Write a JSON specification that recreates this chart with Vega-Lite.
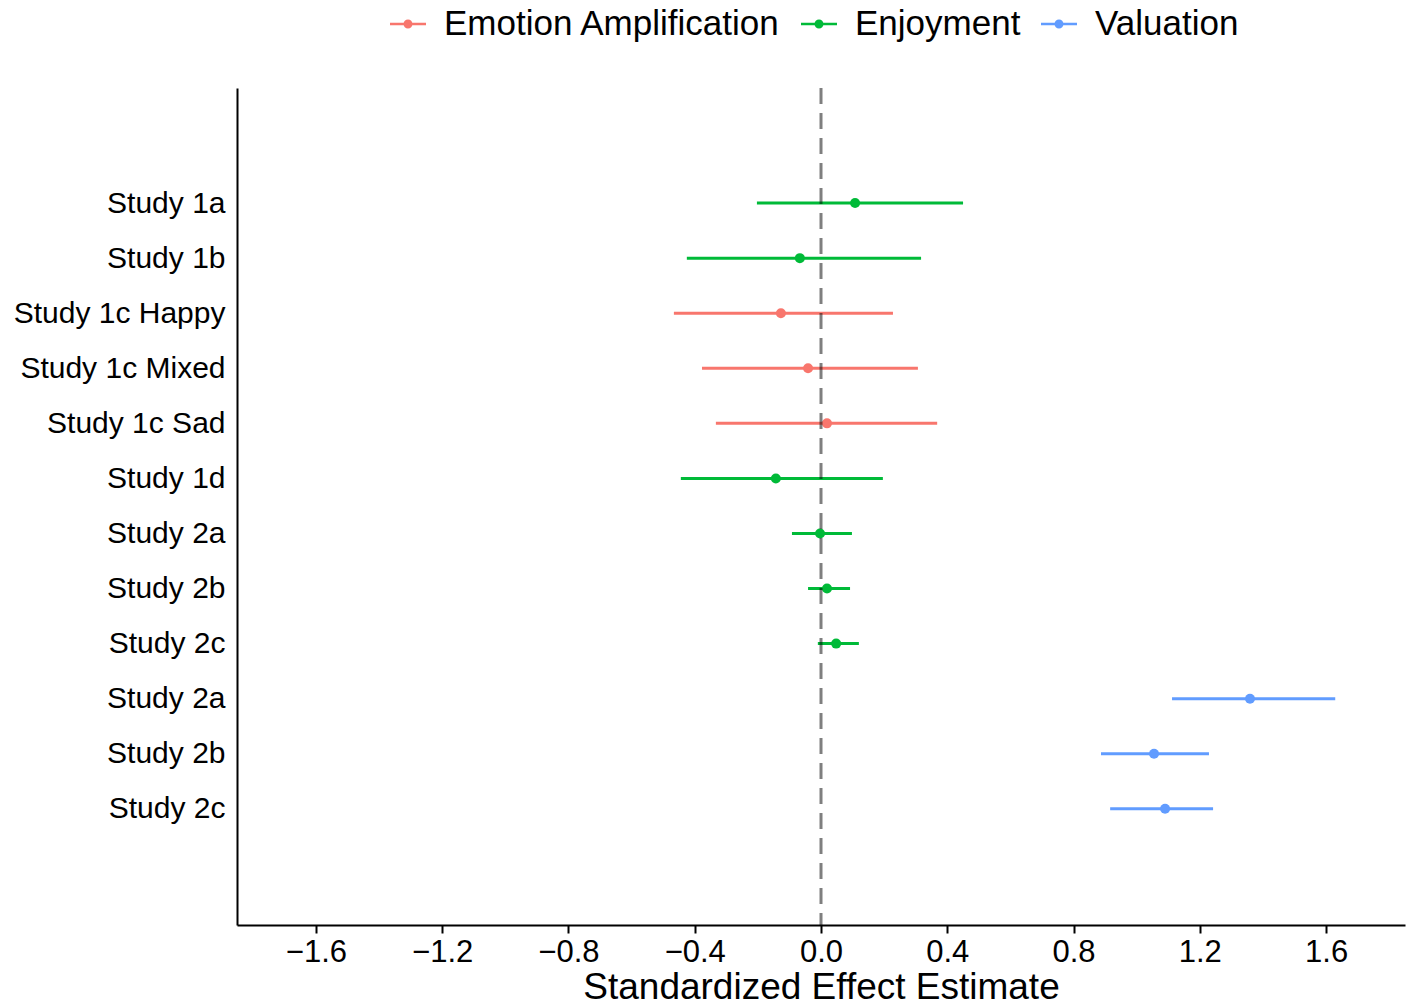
{
  "$schema": "https://vega.github.io/schema/vega-lite/v6.json",
  "width": 1168,
  "height": 837,
  "autosize": "none",
  "padding": {"left": 237, "top": 88, "right": 8, "bottom": 83},
  "background": "white",
  "config": {
    "view": {"stroke": null},
    "font": "Liberation Sans",
    "axis": {"grid": false, "domainColor": "black", "domainWidth": 2, "tickColor": "black", "tickWidth": 2, "labelColor": "black", "titleColor": "black", "labelLimit": 0}
  },
  "datasets": {
    "est": [
      {"row": 1, "study": "Study 1a", "outcome": "Enjoyment", "est": 0.108, "lo": -0.203, "hi": 0.45},
      {"row": 2, "study": "Study 1b", "outcome": "Enjoyment", "est": -0.067, "lo": -0.425, "hi": 0.317},
      {"row": 3, "study": "Study 1c Happy", "outcome": "Emotion Amplification", "est": -0.127, "lo": -0.466, "hi": 0.228},
      {"row": 4, "study": "Study 1c Mixed", "outcome": "Emotion Amplification", "est": -0.041, "lo": -0.377, "hi": 0.307},
      {"row": 5, "study": "Study 1c Sad", "outcome": "Emotion Amplification", "est": 0.019, "lo": -0.333, "hi": 0.368},
      {"row": 6, "study": "Study 1d", "outcome": "Enjoyment", "est": -0.143, "lo": -0.444, "hi": 0.196},
      {"row": 7, "study": "Study 2a", "outcome": "Enjoyment", "est": -0.003, "lo": -0.092, "hi": 0.098},
      {"row": 8, "study": "Study 2b", "outcome": "Enjoyment", "est": 0.019, "lo": -0.041, "hi": 0.092},
      {"row": 9, "study": "Study 2c", "outcome": "Enjoyment", "est": 0.048, "lo": -0.01, "hi": 0.12},
      {"row": 10, "study": "Study 2a", "outcome": "Valuation", "est": 1.359, "lo": 1.112, "hi": 1.629},
      {"row": 11, "study": "Study 2b", "outcome": "Valuation", "est": 1.055, "lo": 0.887, "hi": 1.229},
      {"row": 12, "study": "Study 2c", "outcome": "Valuation", "est": 1.09, "lo": 0.916, "hi": 1.242}
    ],
    "ref": [{"x": 0}]
  },
  "layer": [
    {
      "data": {"name": "est"},
      "mark": {"type": "rule", "strokeWidth": 3},
      "encoding": {
        "x": {"field": "lo", "type": "quantitative", "scale": {"domain": [-1.85, 1.85], "nice": false, "zero": false},
          "axis": {"values": [-1.6, -1.2, -0.8, -0.4, 0, 0.4, 0.8, 1.2, 1.6], "format": ".1f", "labelFontSize": 31, "tickSize": 8, "labelPadding": 4, "title": "Standardized Effect Estimate", "titleFontSize": 37, "titleFontWeight": "normal", "titlePadding": 2}},
        "x2": {"field": "hi"},
        "y": {"field": "row", "type": "quantitative", "scale": {"domain": [-1.09, 14.11], "reverse": true, "nice": false, "zero": false},
          "axis": {"values": [1,2,3,4,5,6,7,8,9,10,11,12], "ticks": false, "labelFontSize": 30, "labelPadding": 12, "title": null,
            "labelExpr": "['', 'Study 1a', 'Study 1b', 'Study 1c Happy', 'Study 1c Mixed', 'Study 1c Sad', 'Study 1d', 'Study 2a', 'Study 2b', 'Study 2c', 'Study 2a', 'Study 2b', 'Study 2c'][datum.value]"}},
        "color": {"field": "outcome", "type": "nominal",
          "scale": {"domain": ["Emotion Amplification", "Enjoyment", "Valuation"], "range": ["#F8766D", "#00BA38", "#619CFF"]},
          "legend": {"orient": "none", "legendX": 153, "legendY": -82, "direction": "horizontal", "title": null,
            "labelFontSize": 35, "labelColor": "black", "labelOffset": 18, "columnPadding": 20, "labelLimit": 0,
            "symbolType": "M-1,-0.07H1V0.07H-1Z M-0.25,0A0.25,0.25 0 1,1 0.25,0A0.25,0.25 0 1,1 -0.25,0Z",
            "symbolSize": 1296, "symbolStrokeWidth": 0, "symbolOpacity": 1}}
      }
    },
    {
      "data": {"name": "est"},
      "mark": {"type": "point", "filled": true, "size": 100, "opacity": 1},
      "encoding": {
        "x": {"field": "est", "type": "quantitative"},
        "y": {"field": "row", "type": "quantitative"},
        "color": {"field": "outcome", "type": "nominal"}
      }
    },
    {
      "data": {"name": "ref"},
      "mark": {"type": "rule", "color": "black", "opacity": 0.5, "strokeWidth": 3, "strokeDash": [16, 9]},
      "encoding": {"x": {"field": "x", "type": "quantitative"}}
    }
  ]
}
